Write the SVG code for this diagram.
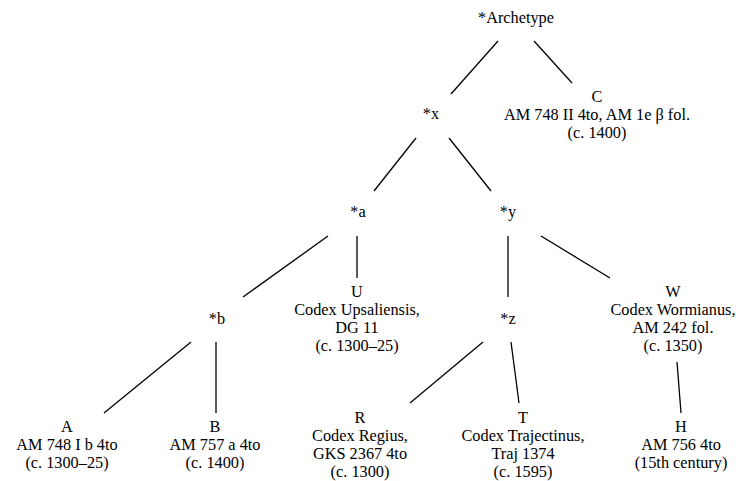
<svg xmlns="http://www.w3.org/2000/svg" width="736" height="481" viewBox="0 0 736 481">
  <style>
    .lbl { font-family: 'Liberation Serif', 'DejaVu Serif', serif; font-size: 16.3px; fill: #000; text-anchor: middle; }
    .edge { stroke: #000; stroke-width: 1.3; fill: none; stroke-linecap: butt; }
  </style>
  <rect width="736" height="481" fill="#fff"/>

  <!-- stemma edges -->
  <g id="connectors">
    <line class="edge" x1="498" y1="41" x2="451" y2="94"/>
    <line class="edge" x1="534" y1="41" x2="572" y2="83"/>
    <line class="edge" x1="416" y1="138" x2="374" y2="191"/>
    <line class="edge" x1="449" y1="138" x2="491" y2="191"/>
    <line class="edge" x1="328" y1="236" x2="243" y2="297"/>
    <line class="edge" x1="357" y1="236" x2="357" y2="278"/>
    <line class="edge" x1="508" y1="236" x2="508" y2="297"/>
    <line class="edge" x1="541" y1="236" x2="610" y2="278"/>
    <line class="edge" x1="191" y1="342" x2="104" y2="413"/>
    <line class="edge" x1="216" y1="342" x2="216" y2="413"/>
    <line class="edge" x1="483" y1="342" x2="410" y2="403"/>
    <line class="edge" x1="511" y1="342" x2="519" y2="403"/>
    <line class="edge" x1="677" y1="362" x2="681" y2="413"/>
  </g>

  <g class="lbl" font-family="Liberation Serif, DejaVu Serif, serif">
    <g id="archetype"><text x="516" y="23">*Archetype</text></g>
    <g id="C">
      <text x="597" y="102">C</text>
      <text x="597" y="120">AM 748 II 4to, AM 1e β fol.</text>
      <text x="597" y="138">(c. 1400)</text>
    </g>
    <g id="x"><text x="431" y="119">*x</text></g>
    <g id="a"><text x="358" y="217">*a</text></g>
    <g id="y"><text x="508" y="217">*y</text></g>
    <g id="U">
      <text x="357" y="297">U</text>
      <text x="357" y="315">Codex Upsaliensis,</text>
      <text x="357" y="333">DG 11</text>
      <text x="357" y="351">(c. 1300–25)</text>
    </g>
    <g id="W">
      <text x="673" y="297">W</text>
      <text x="673" y="315">Codex Wormianus,</text>
      <text x="673" y="333">AM 242 fol.</text>
      <text x="673" y="351">(c. 1350)</text>
    </g>
    <g id="b"><text x="217" y="324">*b</text></g>
    <g id="z"><text x="508" y="324">*z</text></g>
    <g id="A">
      <text x="67" y="432">A</text>
      <text x="67" y="450">AM 748 I b 4to</text>
      <text x="67" y="468">(c. 1300–25)</text>
    </g>
    <g id="B">
      <text x="215" y="432">B</text>
      <text x="215" y="450">AM 757 a 4to</text>
      <text x="215" y="468">(c. 1400)</text>
    </g>
    <g id="R">
      <text x="360" y="423">R</text>
      <text x="360" y="441">Codex Regius,</text>
      <text x="360" y="459">GKS 2367 4to</text>
      <text x="360" y="477">(c. 1300)</text>
    </g>
    <g id="T">
      <text x="523" y="423">T</text>
      <text x="523" y="441">Codex Trajectinus,</text>
      <text x="523" y="459">Traj 1374</text>
      <text x="523" y="477">(c. 1595)</text>
    </g>
    <g id="H">
      <text x="681" y="432">H</text>
      <text x="681" y="450">AM 756 4to</text>
      <text x="681" y="468">(15th century)</text>
    </g>
  </g>
</svg>
